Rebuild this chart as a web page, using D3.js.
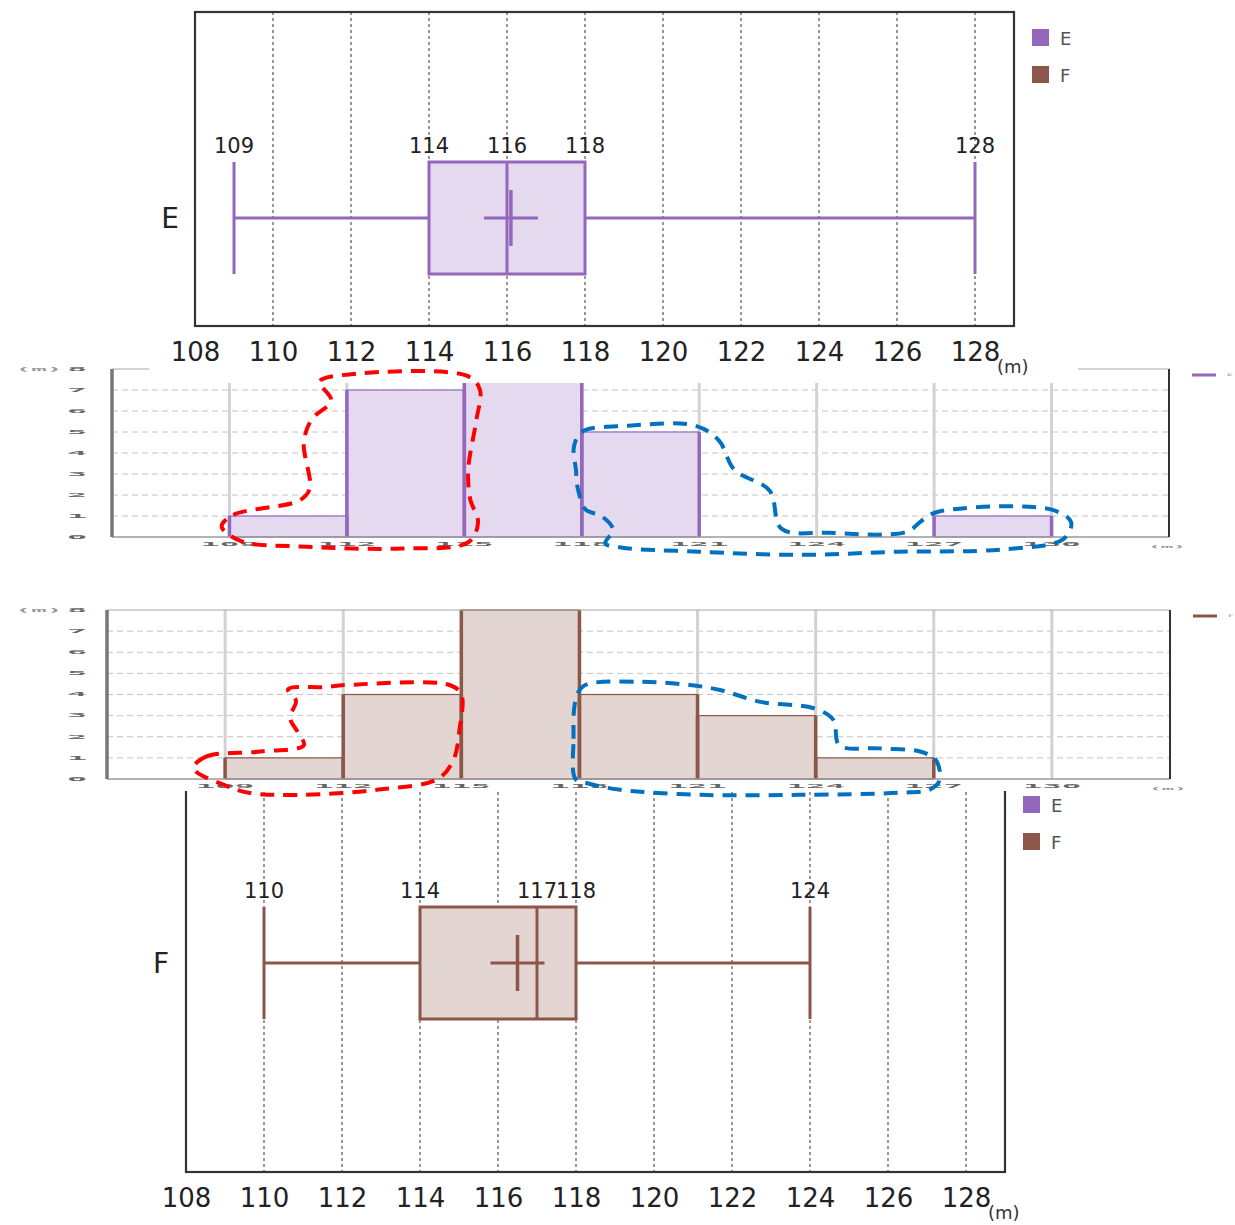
<!DOCTYPE html>
<html>
<head>
<meta charset="utf-8">
<script src="https://cdn.jsdelivr.net/npm/d3@7"></script>
<style>
  body { margin: 0; background: #fff; }
  svg { display: block; }
</style>
</head>
<body>
<script>
// box plot summary per series
const seriesNames = ['E', 'F']
const seriesColors = ['#9467bd', '#8c564b']
const seriesFills = ['#e5d9ef', '#e3d5d1']
const boxMin = [109, 110]
const boxQ1 = [114, 114]
const boxMedian = [116, 117]
const boxQ3 = [118, 118]
const boxMax = [128, 124]
const boxMean = [116.1, 116.5]
const boxTicks = [108, 110, 112, 114, 116, 118, 120, 122, 124, 126, 128]
const boxGrid = [110, 112, 114, 116, 118, 120, 122, 124, 126, 128]

// histograms
const binEdges = [109, 112, 115, 118, 121, 124, 127, 130]
const countsE = [1, 7, 8, 5, 0, 0, 1]
const countsF = [1, 4, 8, 4, 3, 1, 0]
const countTicks = [0, 1, 2, 3, 4, 5, 6, 7, 8]

// hand drawn outlines, in (value, count) units of each histogram
const redE = [[108.8, 0.5], [109.1, 1.05], [110.8, 1.75], [111.05, 2.3], [110.9, 4.5], [111.1, 5.6], [111.6, 6.5],
  [111.3, 7.4], [112.1, 7.75], [115.1, 7.65], [115.4, 7.0], [115.3, 5.5], [115.1, 3.2], [115.15, 1.8],
  [115.35, 0.7], [115.1, -0.25], [113.4, -0.55], [110.8, -0.45], [109.3, -0.2]]
const blueE = [[117.8, 4.3], [118.0, 5.0], [119.2, 5.3], [120.9, 5.3], [121.5, 4.6], [121.9, 3.2], [122.8, 2.2],
  [123.1, 0.4], [124.3, 0.2], [126.3, 0.25], [126.7, 0.8], [127.1, 1.2], [130.0, 1.3], [130.5, 0.7],
  [130.3, -0.1], [128.7, -0.6], [126.1, -0.7], [123.6, -0.85], [121.0, -0.7], [119.0, -0.5],
  [118.6, -0.3], [118.8, 0.35], [118.5, 1.0], [118.1, 1.3], [117.9, 2.3], [117.85, 3.2]]
const redF = [[108.2, 0.5], [108.5, 1.05], [109.9, 1.3], [111.0, 1.6], [110.85, 2.2], [110.65, 2.9], [110.8, 3.7],
  [110.6, 4.25], [111.5, 4.35], [112.1, 4.45], [114.7, 4.45], [115.0, 4.0], [114.95, 2.3], [114.8, 0.9],
  [114.4, 0.0], [112.9, -0.5], [110.9, -0.75], [109.6, -0.65], [109.0, -0.3]]
const blueF = [[117.9, 0.0], [117.85, 1.9], [117.9, 3.7], [118.1, 4.4], [119.5, 4.6], [120.8, 4.45], [121.6, 4.2],
  [122.6, 3.65], [123.95, 3.35], [124.45, 2.8], [124.6, 1.6], [125.6, 1.45], [126.65, 1.3], [127.05, 0.9],
  [127.15, -0.05], [126.9, -0.5], [126.1, -0.65], [123.6, -0.75], [121.1, -0.75], [119.0, -0.5], [118.2, -0.2]]

const svg = d3.select('body').append('svg')
  .attr('width', 1235)
  .attr('height', 1225)

const font = '"DejaVu Sans", Verdana, sans-serif'
const mono = '"DejaVu Sans Mono", monospace'

function squashed(g, x, y, txt, size, sx, sy, anchor){
  return g.append('text')
    .attr('transform', 'translate(' + x + ',' + y + ') scale(' + sx + ',' + sy + ')')
    .attr('text-anchor', anchor || 'middle').attr('dominant-baseline', 'central')
    .style('font-family', mono).style('font-size', size + 'px')
    .style('font-weight', 'bold').style('fill', '#666')
    .text(txt)
}

function drawHist(cfg){
  let g = svg.append('g')
  let color = seriesColors[cfg.i]
  let fill = seriesFills[cfg.i]
  let x = d3.scaleLinear().domain([106, 133]).range([cfg.left, cfg.right])
  let y = d3.scaleLinear().domain([0, 8]).range([cfg.bottom, cfg.top])

  if(cfg.bg){
    g.append('rect').attr('x', 0).attr('y', cfg.bg[0]).attr('width', 1235).attr('height', cfg.bg[1] - cfg.bg[0])
      .attr('fill', '#fff')
  }

  // grid
  g.selectAll('line.hgrid').data(countTicks.slice(1, 8)).enter().append('line')
    .attr('x1', cfg.left).attr('x2', cfg.right)
    .attr('y1', d => y(d)).attr('y2', d => y(d))
    .attr('stroke', '#c4c4c4').attr('stroke-dasharray', '6,4')
  g.selectAll('line.vgrid').data(binEdges).enter().append('line')
    .attr('x1', d => x(d)).attr('x2', d => x(d))
    .attr('y1', y(8)).attr('y2', y(0))
    .attr('stroke', '#d2d2d2').attr('stroke-width', 3)

  // bars
  let bins = cfg.counts.map((c, k) => ({ x0: binEdges[k], x1: binEdges[k + 1], c: c })).filter(d => d.c > 0)
  g.selectAll('rect.bar').data(bins).enter().append('rect')
    .attr('x', d => x(d.x0)).attr('width', d => x(d.x1) - x(d.x0))
    .attr('y', d => y(d.c)).attr('height', d => y(0) - y(d.c))
    .attr('fill', fill).attr('stroke', color).attr('stroke-width', 1.2)
  bins.forEach(function(d){
    [d.x0, d.x1].forEach(function(v){
      g.append('line').attr('x1', x(v)).attr('x2', x(v))
        .attr('y1', y(d.c)).attr('y2', y(0))
        .attr('stroke', color).attr('stroke-width', 3.5)
    })
  })

  // frame
  g.append('line').attr('x1', cfg.left).attr('x2', cfg.right).attr('y1', y(8)).attr('y2', y(8))
    .attr('stroke', '#a8a8a8').attr('stroke-width', 1.2)
  g.append('line').attr('x1', cfg.left).attr('x2', cfg.right).attr('y1', y(0)).attr('y2', y(0))
    .attr('stroke', '#9a9a9a').attr('stroke-width', 1.5)
  g.append('line').attr('x1', cfg.left).attr('x2', cfg.left).attr('y1', y(8)).attr('y2', y(0))
    .attr('stroke', '#777').attr('stroke-width', 3.5)
  g.append('line').attr('x1', cfg.right).attr('x2', cfg.right).attr('y1', y(8)).attr('y2', y(0))
    .attr('stroke', '#333').attr('stroke-width', 2)

  // squashed tick labels
  countTicks.forEach(function(d){ squashed(g, 77, y(d), d, 12, 2.8, 0.45) })
  squashed(g, 39, y(8), '(m)', 10, 2.6, 0.45).style('fill', '#999')
  binEdges.forEach(function(d){ squashed(g, x(d), y(0) + 7, d, 12, 2.7, 0.5) })
  squashed(g, cfg.right - 2, y(0) + 10, '(m)', 8, 2.6, 0.45).style('fill', '#999')

  // legend stub (cut by the picture edge in the source)
  g.append('line').attr('x1', cfg.right + 23).attr('x2', cfg.right + 47)
    .attr('y1', y(8) + 6).attr('y2', y(8) + 6)
    .attr('stroke', color).attr('stroke-width', 3)
  squashed(g, cfg.right + 58, y(8) + 6, seriesNames[cfg.i], 8, 1.2, 0.45, 'start').style('fill', '#aaa')

  return { x: x, y: y }
}

function drawBox(cfg){
  let i = cfg.i
  let g = svg.append('g')
  let color = seriesColors[i]
  let x = d3.scaleLinear().domain([108, 129]).range([cfg.left, cfg.right])
  let cy = cfg.cy
  let half = 56

  if(cfg.bg){
    g.append('rect').attr('x', cfg.bg[0]).attr('y', cfg.bg[1])
      .attr('width', cfg.bg[2] - cfg.bg[0]).attr('height', cfg.bg[3] - cfg.bg[1])
      .attr('fill', '#fff')
  }

  g.selectAll('line.grid').data(boxGrid).enter().append('line')
    .attr('x1', d => x(d)).attr('x2', d => x(d))
    .attr('y1', cfg.top).attr('y2', cfg.bottom)
    .attr('stroke', '#777').attr('stroke-width', 1.5).attr('stroke-dasharray', '3,3')

  g.append('rect').attr('x', cfg.left).attr('y', cfg.top)
    .attr('width', cfg.right - cfg.left).attr('height', cfg.bottom - cfg.top)
    .attr('fill', 'none').attr('stroke', '#333').attr('stroke-width', 2.2)

  let axis = g.append('g')
    .attr('transform', 'translate(0,' + cfg.bottom + ')')
    .call(d3.axisBottom(x).tickValues(boxTicks).tickSize(0).tickPadding(17))
  axis.select('.domain').remove()
  axis.selectAll('text').style('font-family', font).style('font-size', '26px').style('fill', '#222')
  g.append('text').attr('x', cfg.right - 17).attr('y', cfg.bottom + 47)
    .style('font-family', font).style('font-size', '18px').style('fill', '#333')
    .text('(m)')

  // whiskers
  g.append('line').attr('x1', x(boxMin[i])).attr('x2', x(boxQ1[i])).attr('y1', cy).attr('y2', cy)
    .attr('stroke', color).attr('stroke-width', 3)
  g.append('line').attr('x1', x(boxQ3[i])).attr('x2', x(boxMax[i])).attr('y1', cy).attr('y2', cy)
    .attr('stroke', color).attr('stroke-width', 3)
  ;[boxMin[i], boxMax[i]].forEach(function(v){
    g.append('line').attr('x1', x(v)).attr('x2', x(v)).attr('y1', cy - half).attr('y2', cy + half)
      .attr('stroke', color).attr('stroke-width', 3)
  })
  // box
  g.append('rect').attr('x', x(boxQ1[i])).attr('y', cy - half)
    .attr('width', x(boxQ3[i]) - x(boxQ1[i])).attr('height', half * 2)
    .attr('fill', seriesFills[i]).attr('stroke', color).attr('stroke-width', 3)
  g.append('line').attr('x1', x(boxMedian[i])).attr('x2', x(boxMedian[i]))
    .attr('y1', cy - half).attr('y2', cy + half)
    .attr('stroke', color).attr('stroke-width', 3)
  // mean cross
  let mx = x(boxMean[i])
  g.append('line').attr('x1', mx - 27).attr('x2', mx + 27).attr('y1', cy).attr('y2', cy)
    .attr('stroke', color).attr('stroke-width', 3)
  g.append('line').attr('x1', mx).attr('x2', mx).attr('y1', cy - 28).attr('y2', cy + 28)
    .attr('stroke', color).attr('stroke-width', 3.5)

  // value labels
  let vals = [boxMin[i], boxQ1[i], boxMedian[i], boxQ3[i], boxMax[i]]
  g.selectAll('text.val').data(vals).enter().append('text')
    .attr('x', d => x(d)).attr('y', cy - half - 9)
    .attr('text-anchor', 'middle')
    .style('font-family', font).style('font-size', '21px').style('fill', '#222')
    .text(d => d)

  g.append('text').attr('x', cfg.left - 25).attr('y', cy)
    .attr('text-anchor', 'middle').attr('dominant-baseline', 'central')
    .style('font-family', font).style('font-size', '28px').style('fill', '#222')
    .text(seriesNames[i])

  // legend
  seriesNames.forEach(function(name, k){
    g.append('rect').attr('x', cfg.right + 18).attr('y', cfg.legendY + k * 37)
      .attr('width', 17).attr('height', 17).attr('fill', seriesColors[k])
    g.append('text').attr('x', cfg.right + 46).attr('y', cfg.legendY + k * 37 + 9)
      .attr('dominant-baseline', 'central')
      .style('font-family', font).style('font-size', '18px').style('fill', '#555')
      .text(name)
  })
}

function outline(scales, pts, color){
  let line = d3.line()
    .x(d => scales.x(d[0])).y(d => scales.y(d[1]))
    .curve(d3.curveCatmullRomClosed.alpha(0.5))
  svg.append('path').attr('d', line(pts))
    .attr('fill', 'none').attr('stroke', color)
    .attr('stroke-width', 4).attr('stroke-dasharray', '14,9')
}

let histEScales = drawHist({ i: 0, left: 112, right: 1169, top: 369, bottom: 537, counts: countsE })
drawBox({ i: 0, left: 195, right: 1014, top: 12, bottom: 326, cy: 218, legendY: 29, bg: [149, 0, 1078, 383] })
drawBox({ i: 1, left: 186, right: 1005, top: 780, bottom: 1172, cy: 963, legendY: 796 })
let histFScales = drawHist({ i: 1, left: 107, right: 1170, top: 610, bottom: 779, counts: countsF, bg: [590, 791] })

outline(histEScales, redE, '#ff0000')
outline(histEScales, blueE, '#0070c0')
outline(histFScales, redF, '#ff0000')
outline(histFScales, blueF, '#0070c0')
</script>
</body>
</html>
